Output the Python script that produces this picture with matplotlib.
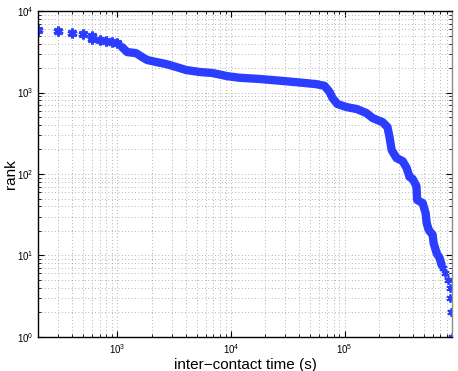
import numpy as np
import matplotlib
matplotlib.use('Agg')
import matplotlib.pyplot as plt

plt.rcParams['font.family'] = ['Liberation Sans', 'DejaVu Sans']
plt.rcParams['mathtext.default'] = 'regular'

# sparse points at the short-time end (s, rank)
t_head = [200, 300, 400, 500, 600, 600, 700, 800, 900, 1000]
r_head = [5850, 5690, 5370, 5220, 4900, 4550, 4400, 4280, 4170, 4050]

# dense part of the curve
t_body = [1100, 1220, 1460, 1650, 1830, 2200, 2690, 3300, 4040, 5260,
          6850, 9290, 11860, 17800, 26700, 40100, 56300, 66600, 73800, 78400,
          86700, 104000, 128000, 156000, 177000, 216000, 239000, 249000, 260000, 287000,
          325000, 352000, 374000, 398000, 430000, 436000, 488000, 518000, 529000, 551000,
          597000, 609000, 647000, 688000, 717000]
r_body = [3610, 3140, 3050, 2730, 2510, 2370, 2240, 2060, 1890, 1790,
          1740, 1590, 1520, 1470, 1400, 1330, 1270, 1210, 1020, 857,
          723, 664, 628, 560, 486, 434, 377, 285, 197, 157,
          144, 119, 92, 87, 71, 48, 44, 33, 25, 20.6,
          17.9, 14.2, 10.7, 9.3, 7.6]

# last few ranks at the long-time end
t_tail = [731000, 762000, 809000, 855000, 857000, 873000, 883000]
r_tail = [7, 6, 5, 4, 3, 2, 1]

blue = '#2b3dff'
star = (6, 2, 0)  # asterisk like matlab's '*'

fig = plt.figure(figsize=(4.58, 3.71), dpi=100)
ax = fig.add_axes([0.083, 0.092, 0.904, 0.878])

ax.plot(t_head, r_head, linestyle='none', marker=star, color=blue,
        markersize=7, markeredgewidth=2.2)
ax.plot(t_body, r_body, '-', color=blue, linewidth=6, solid_capstyle='round',
        solid_joinstyle='round')
ax.plot(t_tail, r_tail, linestyle='none', marker=star, color=blue,
        markersize=6, markeredgewidth=1.3)

ax.set_xscale('log')
ax.set_yscale('log')
ax.set_xlim(200, 8.85e5)
ax.set_ylim(1, 1e4)

ax.grid(True, which='both', linestyle=(0, (1, 3)), linewidth=0.6, color='0.6')
ax.tick_params(which='both', direction='in', top=True, right=True, labelsize=7)
ax.tick_params(which='major', length=4)
ax.tick_params(which='minor', length=2)
for s in ax.spines.values():
    s.set_linewidth(1.0)
ax.spines['right'].set_color('0.55')

ax.set_xlabel('inter\u2212contact time (s)', fontsize=11, labelpad=2)
ax.set_ylabel('rank', fontsize=11)
ax.yaxis.set_label_coords(-0.048, 0.5)

fig.savefig('out.png', dpi=100)
